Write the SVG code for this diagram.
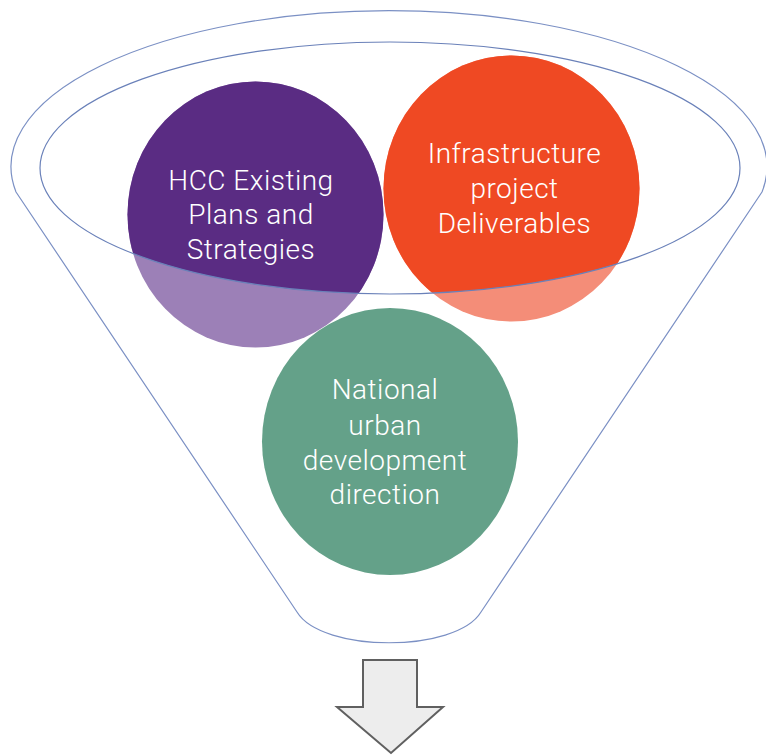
<svg xmlns="http://www.w3.org/2000/svg" width="766" height="755" viewBox="0 0 766 755">
  <style>
    .lbl { font-family: Roboto, "Liberation Sans", sans-serif; font-weight: 300; font-size: 28px; letter-spacing: 0.5px; fill: #ffffff; text-anchor: middle; }
  </style>
  <defs>
    <clipPath id="inner">
      <ellipse cx="390" cy="168" rx="350" ry="126"/>
    </clipPath>
  </defs>
  <rect width="766" height="755" fill="#ffffff"/>
  <g id="funnel">
    <path d="M 16 192 L 297 612 C 322 653, 456 653, 481 612 L 762 192 A 378 156 0 1 0 16 192 Z" fill="#ffffff" stroke="#7b90c4" stroke-width="1.2" stroke-linejoin="round"/>
  </g>
  <g id="node-hcc">
    <ellipse cx="255.5" cy="214.5" rx="128" ry="133" fill="#9c80b7"/>
    <ellipse cx="255.5" cy="214.5" rx="128" ry="133" fill="#5a2c83" clip-path="url(#inner)"/>
    <text class="lbl" x="251" y="190">HCC Existing</text>
    <text class="lbl" x="251" y="224">Plans and</text>
    <text class="lbl" x="251" y="259">Strategies</text>
  </g>
  <g id="node-infra">
    <ellipse cx="511.5" cy="188.5" rx="128" ry="133" fill="#f48d78"/>
    <ellipse cx="511.5" cy="188.5" rx="128" ry="133" fill="#ef4923" clip-path="url(#inner)"/>
    <text class="lbl" x="514.5" y="163">Infrastructure</text>
    <text class="lbl" x="514.5" y="198">project</text>
    <text class="lbl" x="514.5" y="233">Deliverables</text>
  </g>
  <g id="node-national">
    <ellipse cx="390" cy="441.5" rx="128" ry="133.5" fill="#64a189"/>
    <text class="lbl" x="385" y="399">National</text>
    <text class="lbl" x="385" y="435">urban</text>
    <text class="lbl" x="385" y="470">development</text>
    <text class="lbl" x="385" y="504">direction</text>
  </g>
  <g id="funnel-rim">
    <ellipse cx="390" cy="168" rx="350" ry="126" fill="none" stroke="#6a81b9" stroke-width="1.2"/>
  </g>
  <g id="connectors">
    <polygon id="arrow-down" points="363,660 417,660 417,707 443,707 391,753 337,707 363,707" fill="#ededed" stroke="#606060" stroke-width="2"/>
  </g>
</svg>
